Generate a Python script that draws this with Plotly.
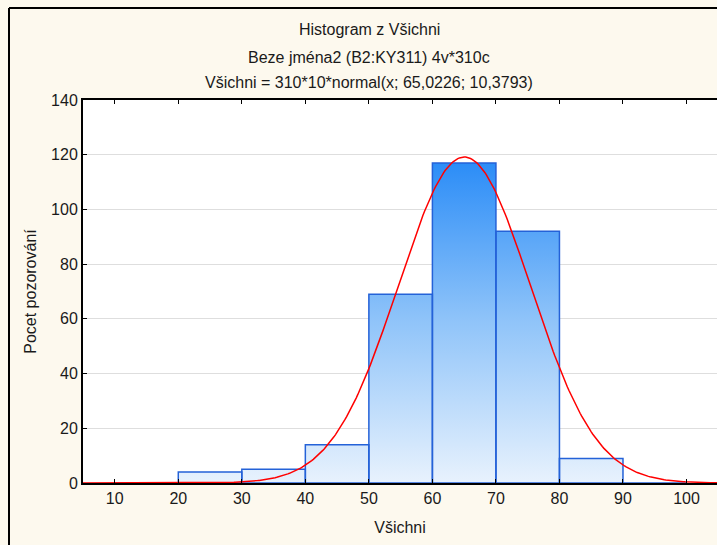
import numpy as np
import plotly.graph_objects as go

# Histogram bins (lower edges, width 10) and observed counts
bin_left = [10, 20, 30, 40, 50, 60, 70, 80, 90]
counts = [0, 4, 5, 14, 69, 117, 92, 9, 0]
bin_width = 10

# Fitted normal curve parameters
n_obs = 310
mean = 65.0226
sd = 10.3793

x_ticks = [10, 20, 30, 40, 50, 60, 70, 80, 90, 100]
y_ticks = [0, 20, 40, 60, 80, 100, 120, 140]

W, H = 717, 545
ML, MT, MR, MB = 83, 100, 0, 62
FONT = "Liberation Sans, Arial, sans-serif"

# Bar polygons (one closed path per bin, separated by gaps)
px, py = [], []
for left, c in zip(bin_left, counts):
    right = left + bin_width
    px += [left, left, right, right, left, None]
    py += [0, c, c, 0, 0, None]

fig = go.Figure()
fig.add_trace(go.Scatter(
    x=px, y=py, mode="lines", fill="toself",
    line=dict(color="#2462D8", width=1.5),
    fillgradient=dict(
        type="vertical",
        colorscale=[[0, "#E8F2FD"], [0.5, "#90C4F9"], [1, "#2A8CF7"]],
        start=0, stop=118,
    ),
    hoverinfo="skip", showlegend=False,
))

# Expected frequencies: n * bin width * normal pdf
xc = np.linspace(5, 105, 401)
yc = n_obs * bin_width * np.exp(-0.5 * ((xc - mean) / sd) ** 2) / (sd * np.sqrt(2 * np.pi))
fig.add_trace(go.Scatter(
    x=xc, y=yc, mode="lines",
    line=dict(color="#FF0000", width=1.5),
    hoverinfo="skip", showlegend=False,
))

plot_w = W - ML - MR
plot_h = H - MT - MB


def px_to_paper_x(p):
    return (p - ML) / plot_w


def px_to_paper_y(p):
    return (H - MB - p) / plot_h


titles = [
    ("Histogram z Všichni", 30),
    ("Beze jména2 (B2:KY311) 4v*310c", 57),
    ("Všichni = 310*10*normal(x; 65,0226; 10,3793)", 82),
]
annotations = [
    dict(text=t, x=px_to_paper_x(369), y=px_to_paper_y(yy), xref="paper", yref="paper",
         showarrow=False, xanchor="center", yanchor="middle",
         font=dict(family=FONT, size=16, color="#1a1a1a"))
    for t, yy in titles
]

fig.update_layout(
    width=W, height=H,
    margin=dict(l=ML, r=MR, t=MT, b=MB, pad=0),
    paper_bgcolor="#FDF9EE",
    plot_bgcolor="#FFFFFF",
    font=dict(family=FONT, size=16, color="#1a1a1a"),
    annotations=annotations,
    shapes=[
        dict(type="line", xref="paper", yref="paper",
             x0=px_to_paper_x(9), x1=px_to_paper_x(720),
             y0=px_to_paper_y(8), y1=px_to_paper_y(8),
             line=dict(color="#000000", width=2)),
        dict(type="line", xref="paper", yref="paper",
             x0=px_to_paper_x(9), x1=px_to_paper_x(9),
             y0=px_to_paper_y(8), y1=px_to_paper_y(550),
             line=dict(color="#000000", width=2)),
    ],
    xaxis=dict(
        range=[5, 104.8], tickvals=x_ticks, ticks="inside", ticklen=4,
        tickcolor="#000000", showline=True, linecolor="#000000", linewidth=2,
        mirror="ticks", showgrid=False, zeroline=False,
        title=dict(text="Všichni", standoff=16, font=dict(size=16)),
        tickfont=dict(size=16),
    ),
    yaxis=dict(
        range=[0, 140], tickvals=y_ticks, ticks="inside", ticklen=4,
        tickcolor="#000000", showline=True, linecolor="#000000", linewidth=2,
        showgrid=True, gridcolor="#DEDEDE", gridwidth=1, zeroline=False,
        title=dict(text="Pocet pozorování", standoff=10, font=dict(size=16)),
        tickfont=dict(size=16),
    ),
)

fig.write_html("out.html")
